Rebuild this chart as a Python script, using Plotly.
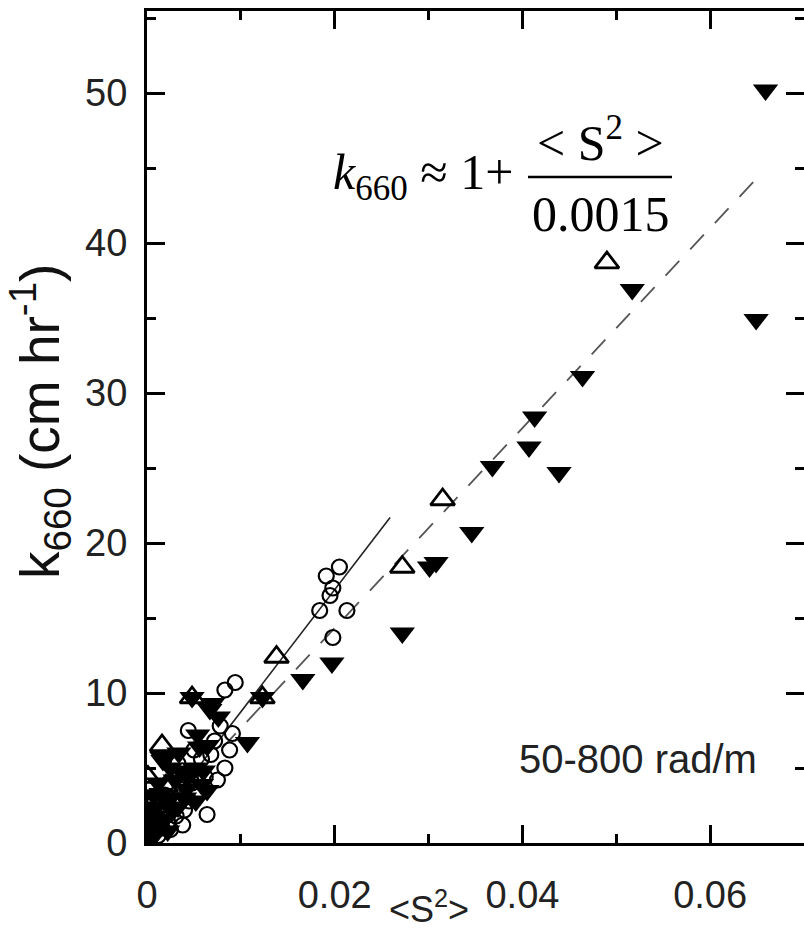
import plotly.graph_objects as go

# ---- data ----
down_x = [0.0659, 0.0649, 0.0517, 0.0464, 0.0439, 0.0413, 0.0407, 0.0368, 0.0346,
          0.0308, 0.0301, 0.0272, 0.0197, 0.0166, 0.0123, 0.0107, 0.0076, 0.0070,
          0.0067, 0.0064, 0.0056, 0.0048, 0.0044, 0.0030, 0.0017, 0.0016, 0.0012,
          0.0064, 0.0019, 0.0027, 0.0005, 0.0003, 0.0008, 0.0015, 0.0040, 0.0050,
          0.0060, 0.0022, 0.0010, 0.0002, 0.0004, 0.0006, 0.0009, 0.0013, 0.0018,
          0.0025, 0.0033, 0.0036, 0.0042, 0.0052, 0.0058, 0.0007, 0.0025, 0.0034,
          0.0054]
down_y = [50.2, 34.9, 36.9, 31.1, 24.7, 28.4, 26.4, 25.1, 20.7,
          18.7, 18.4, 14.0, 12.0, 10.9, 9.7, 6.7, 8.4, 9.3,
          8.9, 6.5, 6.4, 9.7, 4.4, 4.2, 5.5, 5.7, 4.0,
          3.5, 2.9, 2.1, 1.0, 0.3, 1.8, 3.3, 3.0, 5.0,
          4.8, 0.8, 2.4, 0.2, 1.4, 2.2, 0.6, 1.1, 1.6,
          3.0, 2.4, 4.8, 3.6, 2.8, 3.9, 3.2, 5.0, 6.0,
          7.2]

circ_x = [0.0205, 0.0191, 0.0198, 0.0195, 0.0184, 0.0213, 0.0198, 0.0094, 0.0083,
          0.0091, 0.0088, 0.0083, 0.0044, 0.0033, 0.0053, 0.0064, 0.0002, 0.0003,
          0.0004, 0.0010, 0.0015, 0.0022, 0.0028, 0.0035, 0.0040, 0.0048, 0.0058,
          0.0072, 0.0078, 0.0001, 0.0001, 0.0002, 0.0003, 0.0006, 0.0008, 0.0012,
          0.0016, 0.0019, 0.0025, 0.0031, 0.0038, 0.0045, 0.0050, 0.0062, 0.0068,
          0.0075]
circ_y = [18.4, 17.8, 17.0, 16.5, 15.5, 15.5, 13.7, 10.7, 10.2,
          7.3, 6.2, 5.0, 7.5, 5.3, 3.4, 1.9, 1.5, 2.5,
          0.6, 1.2, 2.0, 1.4, 2.6, 3.6, 2.2, 4.0, 5.6,
          6.8, 7.8, 0.2, 1.0, 2.0, 3.0, 0.9, 2.7, 0.5,
          1.0, 3.2, 0.9, 1.8, 1.2, 2.8, 6.2, 4.4, 5.9,
          4.2]

up_x = [0.0490, 0.0315, 0.0272, 0.0138, 0.0123, 0.0048, 0.0016, 0.0001, 0.0020]
up_y = [38.7, 22.9, 18.4, 12.4, 9.7, 9.7, 6.5, 4.4, 3.8]

# fitted lines
dash_x = [0.008, 0.065]
dash_y = [1 + v / 0.0015 for v in dash_x]
solid_x = [0.0, 0.0259]
solid_y = [0.6, 21.7]

x_ticks = [0, 0.02, 0.04, 0.06]
x_ticktext = ["0", "0.02", "0.04", "0.06"]
y_ticks = [0, 10, 20, 30, 40, 50]
y_ticktext = ["0", "10", "20", "30", "40", "50"]

XR = [0, 0.07]
YR = [0, 55.47]

# ---- figure ----
fig = go.Figure()
fig.add_trace(go.Scatter(x=solid_x, y=solid_y, mode="lines",
                         line=dict(color="#222222", width=1.6),
                         showlegend=False, hoverinfo="skip"))
fig.add_trace(go.Scatter(x=dash_x, y=dash_y, mode="lines",
                         line=dict(color="#555555", width=1.8, dash="20px,16px"),
                         showlegend=False, hoverinfo="skip"))
fig.add_trace(go.Scatter(x=circ_x, y=circ_y, mode="markers",
                         marker=dict(symbol="circle-open", size=15, color="black",
                                     line=dict(width=2.2, color="black")),
                         showlegend=False))
fig.add_trace(go.Scatter(x=up_x, y=up_y, mode="markers",
                         marker=dict(symbol="triangle-up-open", size=21, color="black",
                                     line=dict(width=2.8, color="black")),
                         showlegend=False))
fig.add_trace(go.Scatter(x=down_x, y=down_y, mode="markers",
                         marker=dict(symbol="triangle-down", size=22, color="black",
                                     line=dict(width=0)),
                         showlegend=False))
# invisible trace to carry the right-hand tick axis
fig.add_trace(go.Scatter(x=down_x, y=down_y, mode="markers", yaxis="y2",
                         marker=dict(opacity=0), showlegend=False, hoverinfo="skip"))

tickfont = dict(family="Liberation Sans, Arial", size=38, color="#222222")

fig.update_layout(
    width=804, height=929,
    margin=dict(l=147, r=0, t=11, b=86),
    paper_bgcolor="white", plot_bgcolor="white",
    xaxis=dict(range=XR, tickvals=x_ticks, ticktext=x_ticktext,
               ticks="inside", ticklen=18, tickwidth=2.5, tickcolor="black",
               showline=True, linewidth=3, linecolor="black", mirror="ticks",
               showgrid=False, zeroline=False, tickfont=tickfont,
               ticklabelstandoff=16,
               minor=dict(ticks="inside", ticklen=9, tickwidth=2.5, tickcolor="black",
                          dtick=0.01, tick0=0, showgrid=False)),
    yaxis=dict(range=YR, tickvals=y_ticks, ticktext=y_ticktext,
               ticks="inside", ticklen=18, tickwidth=2.5, tickcolor="black",
               showline=True, linewidth=3, linecolor="black",
               showgrid=False, zeroline=False, tickfont=tickfont,
               ticklabelstandoff=9,
               minor=dict(ticks="inside", ticklen=9, tickwidth=2.5, tickcolor="black",
                          dtick=5, tick0=0, showgrid=False)),
    yaxis2=dict(range=YR, overlaying="y", side="right", anchor="x",
                tickvals=y_ticks, ticks="inside", ticklen=18, tickwidth=2.5,
                tickcolor="black", showline=False, showticklabels=False,
                showgrid=False, zeroline=False,
                minor=dict(ticks="inside", ticklen=9, tickwidth=2.5, tickcolor="black",
                           dtick=5, tick0=0, showgrid=False)),
)

def px(xp):
    return (xp - 147) / 657.0

def py(yp):
    return (843 - yp) / 832.0

serif = dict(family="Liberation Serif, Times New Roman, serif", size=50, color="black")
sans = "Liberation Sans, Arial, sans-serif"

ann = [
    dict(text="<i>k</i><sub>660</sub> ≈ 1+", x=px(331), y=py(176), xanchor="left",
         yanchor="middle", font=serif),
    dict(text="&lt; S<sup>2</sup> &gt;", x=px(600), y=py(140), xanchor="center",
         yanchor="middle", font=serif),
    dict(text="0.0015", x=px(601), y=py(214), xanchor="center", yanchor="middle",
         font=serif),
    dict(text="50-800 rad/m", x=px(517), y=py(759), xanchor="left", yanchor="middle",
         font=dict(family=sans, size=40, color="#222222")),
    dict(text="&lt;S<sup>2</sup>&gt;", x=px(429), y=py(907), xanchor="center",
         yanchor="middle", font=dict(family=sans, size=36, color="#222222")),
    dict(text="k<sub>660</sub> (cm hr<sup>-1</sup>)", x=px(40), y=py(422),
         xanchor="center", yanchor="middle", textangle=-90,
         font=dict(family=sans, size=55, color="#111111")),
]
for a in ann:
    a.update(xref="paper", yref="paper", showarrow=False)
fig.update_layout(annotations=ann)

fig.add_shape(type="line", xref="paper", yref="paper",
              x0=px(528), x1=px(672), y0=py(177), y1=py(177),
              line=dict(color="black", width=2.5))

fig.write_html("out.html", config={"displayModeBar": False},
               post_script="document.body.style.margin='0';document.body.style.overflow='hidden';")
